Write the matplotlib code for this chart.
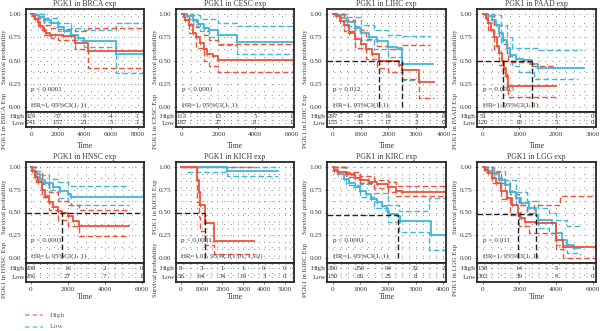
import matplotlib.pyplot as plt
from matplotlib.ticker import MultipleLocator

plt.rcParams['font.family'] = ['Liberation Serif', 'DejaVu Serif']

RED = '#EF5238'
CYAN = '#3DB8DC'
INK = '#3a3a3a'

# survival curves: (time, survival from that time on)
BRCA_HIGH = [(0, 1.0), (150, 0.98), (300, 0.95), (500, 0.91), (700, 0.87), (900, 0.83),
             (1100, 0.80), (1400, 0.78), (1800, 0.77), (2400, 0.76), (3300, 0.69), (4300, 0.60), (8400, 0.60)]
BRCA_HIGH_UP = [(0, 1.0), (500, 0.96), (1000, 0.88), (1500, 0.85), (2000, 0.84), (3300, 0.82), (4300, 0.85), (8400, 0.85)]
BRCA_HIGH_LO = [(0, 1.0), (500, 0.87), (1000, 0.77), (1500, 0.74), (2000, 0.72), (3300, 0.62), (4300, 0.42), (8400, 0.42)]
BRCA_LOW = [(0, 1.0), (300, 0.99), (600, 0.97), (1000, 0.94), (1500, 0.90), (2000, 0.86), (2500, 0.82),
            (3000, 0.78), (3500, 0.74), (4000, 0.71), (6400, 0.57), (8400, 0.57)]
BRCA_LOW_UP = [(0, 1.0), (1000, 0.96), (2000, 0.90), (3000, 0.85), (4000, 0.83), (6400, 0.90), (8400, 0.90)]
BRCA_LOW_LO = [(0, 1.0), (1000, 0.92), (2000, 0.82), (3000, 0.72), (4000, 0.65), (6400, 0.36), (8400, 0.36)]

CESC_HIGH = [(0, 1.0), (100, 0.97), (200, 0.94), (400, 0.88), (600, 0.80), (800, 0.75), (1000, 0.69),
             (1200, 0.62), (1400, 0.57), (1700, 0.55), (2000, 0.51), (6100, 0.51)]
CESC_HIGH_UP = [(0, 1.0), (400, 0.95), (800, 0.86), (1200, 0.77), (1500, 0.72), (2000, 0.68), (6100, 0.67)]
CESC_HIGH_LO = [(0, 1.0), (400, 0.80), (800, 0.64), (1200, 0.50), (1500, 0.44), (2000, 0.38), (6100, 0.38)]
CESC_LOW = [(0, 1.0), (300, 0.98), (600, 0.94), (900, 0.89), (1200, 0.85), (1500, 0.83), (2000, 0.77), (3000, 0.70), (6100, 0.70)]
CESC_LOW_UP = [(0, 1.0), (600, 0.99), (1000, 0.95), (2000, 0.90), (3000, 0.875), (6100, 0.875)]
CESC_LOW_LO = [(0, 1.0), (600, 0.89), (1000, 0.82), (1500, 0.75), (2000, 0.67), (3000, 0.57), (6100, 0.57)]

LIHC_HIGH = [(0, 1.0), (100, 0.98), (250, 0.93), (400, 0.88), (600, 0.80), (800, 0.73), (1000, 0.68), (1200, 0.62),
             (1400, 0.57), (1650, 0.50), (2000, 0.49), (2400, 0.45), (2500, 0.40), (3100, 0.27), (3650, 0.27)]
LIHC_HIGH_UP = [(0, 1.0), (400, 0.94), (800, 0.83), (1200, 0.73), (1600, 0.66), (2000, 0.62), (2500, 0.67), (3500, 0.67)]
LIHC_HIGH_LO = [(0, 1.0), (400, 0.82), (800, 0.64), (1200, 0.52), (1600, 0.42), (2000, 0.38), (2500, 0.30), (3100, 0.10), (3650, 0.10)]
LIHC_LOW = [(0, 1.0), (150, 0.99), (300, 0.96), (500, 0.92), (800, 0.85), (1000, 0.80), (1300, 0.75), (1600, 0.71),
            (2000, 0.65), (2300, 0.63), (2500, 0.46), (3600, 0.46)]
LIHC_LOW_UP = [(0, 1.0), (500, 0.97), (1000, 0.88), (1500, 0.83), (2000, 0.78), (2500, 0.76), (3500, 0.76)]
LIHC_LOW_LO = [(0, 1.0), (500, 0.87), (1000, 0.72), (1500, 0.62), (2000, 0.54), (2500, 0.29), (3000, 0.29)]

PAAD_HIGH = [(0, 1.0), (80, 0.96), (150, 0.90), (220, 0.83), (300, 0.75), (380, 0.66), (450, 0.58), (520, 0.50),
             (580, 0.42), (630, 0.33), (700, 0.22), (2000, 0.22)]
PAAD_HIGH_UP = [(0, 1.0), (150, 0.98), (300, 0.88), (450, 0.76), (550, 0.68), (650, 0.55), (700, 0.48), (1300, 0.44), (2000, 0.44)]
PAAD_HIGH_LO = [(0, 1.0), (150, 0.83), (300, 0.62), (450, 0.45), (550, 0.35), (650, 0.20), (700, 0.11), (2000, 0.11)]
PAAD_LOW = [(0, 1.0), (150, 0.98), (250, 0.94), (350, 0.88), (450, 0.80), (550, 0.72), (650, 0.63), (750, 0.56),
            (900, 0.52), (1100, 0.51), (1350, 0.46), (1500, 0.42), (2750, 0.42)]
PAAD_LOW_UP = [(0, 1.0), (300, 0.99), (500, 0.88), (650, 0.75), (800, 0.64), (1500, 0.61), (2700, 0.61)]
PAAD_LOW_LO = [(0, 1.0), (300, 0.88), (500, 0.70), (650, 0.55), (800, 0.44), (1000, 0.38), (1400, 0.30), (2600, 0.30)]

HNSC_HIGH = [(0, 1.0), (100, 0.96), (250, 0.89), (400, 0.83), (600, 0.75), (800, 0.68), (1000, 0.62), (1200, 0.56),
             (1500, 0.52), (1700, 0.50), (2000, 0.46), (2300, 0.41), (2600, 0.35), (5300, 0.35)]
HNSC_HIGH_UP = [(0, 1.0), (300, 0.93), (600, 0.84), (1000, 0.72), (1500, 0.63), (2000, 0.58), (2600, 0.53), (5300, 0.53)]
HNSC_HIGH_LO = [(0, 1.0), (300, 0.83), (600, 0.67), (1000, 0.53), (1500, 0.42), (2000, 0.35), (2600, 0.24), (5300, 0.24)]
HNSC_LOW = [(0, 1.0), (100, 0.97), (250, 0.92), (500, 0.86), (800, 0.82), (1200, 0.78), (1600, 0.74), (2000, 0.70),
            (2200, 0.67), (6100, 0.67)]
HNSC_LOW_UP = [(0, 1.0), (300, 0.96), (600, 0.91), (1000, 0.87), (1500, 0.83), (2000, 0.79), (5300, 0.79)]
HNSC_LOW_LO = [(0, 1.0), (300, 0.88), (600, 0.81), (1000, 0.75), (1500, 0.66), (2000, 0.60), (2200, 0.58), (5300, 0.58)]

KICH_HIGH = [(0, 1.0), (780, 0.86), (860, 0.72), (930, 0.58), (1150, 0.39), (1600, 0.19), (3500, 0.19)]
KICH_HIGH_UP = [(0, 1.0), (3500, 1.0)]
KICH_HIGH_LO = [(0, 1.0), (780, 0.62), (860, 0.45), (930, 0.30), (1150, 0.14), (1600, 0.04), (3500, 0.04)]
KICH_LOW = [(0, 1.0), (2200, 0.96), (4700, 0.96)]
KICH_LOW_UP = [(300, 1.0), (4700, 1.0)]
KICH_LOW_LO = [(300, 0.95), (2200, 0.90), (4700, 0.90)]

KIRC_HIGH = [(0, 1.0), (50, 0.97), (200, 0.95), (500, 0.92), (800, 0.88), (1000, 0.86), (1300, 0.83), (1600, 0.81),
             (2000, 0.78), (2300, 0.74), (2500, 0.73), (4150, 0.73)]
KIRC_HIGH_UP = [(0, 1.0), (500, 0.95), (1000, 0.90), (1500, 0.86), (2000, 0.83), (2300, 0.79), (4150, 0.79)]
KIRC_HIGH_LO = [(0, 1.0), (500, 0.89), (1000, 0.82), (1500, 0.77), (2000, 0.73), (2300, 0.68), (4150, 0.68)]
KIRC_LOW = [(0, 1.0), (50, 0.96), (200, 0.92), (400, 0.87), (600, 0.82), (800, 0.78), (1000, 0.74), (1200, 0.70),
            (1400, 0.65), (1600, 0.61), (1800, 0.57), (1950, 0.52), (2050, 0.48), (2350, 0.46), (2450, 0.41),
            (3550, 0.25), (4150, 0.25)]
KIRC_LOW_UP = [(0, 1.0), (500, 0.91), (1000, 0.81), (1500, 0.71), (2000, 0.58), (2400, 0.52), (3500, 0.66), (4100, 0.66)]
KIRC_LOW_LO = [(0, 1.0), (500, 0.80), (1000, 0.67), (1500, 0.55), (2000, 0.40), (2400, 0.29), (3500, 0.09), (4100, 0.09)]

LGG_HIGH = [(0, 1.0), (150, 0.97), (300, 0.93), (500, 0.88), (700, 0.82), (1000, 0.74), (1300, 0.66), (1600, 0.58),
            (1900, 0.50), (2100, 0.44), (2300, 0.40), (2900, 0.38), (4000, 0.20), (4400, 0.12), (6300, 0.12)]
LGG_HIGH_UP = [(0, 1.0), (500, 0.94), (1000, 0.82), (1500, 0.70), (2000, 0.58), (2400, 0.50), (2800, 0.58), (4200, 0.68), (6300, 0.68)]
LGG_HIGH_LO = [(0, 1.0), (500, 0.82), (1000, 0.65), (1500, 0.47), (2000, 0.35), (2500, 0.28), (4000, 0.10), (4400, 0.0), (6300, 0.0)]
LGG_LOW = [(0, 1.0), (150, 0.98), (300, 0.96), (600, 0.92), (900, 0.86), (1200, 0.80), (1500, 0.73), (1800, 0.66),
           (2100, 0.60), (2500, 0.55), (2900, 0.47), (3000, 0.42), (3800, 0.38), (4000, 0.28), (4300, 0.20),
           (4600, 0.14), (5000, 0.11), (5300, 0.11)]
LGG_LOW_UP = [(0, 1.0), (600, 0.96), (1200, 0.86), (1800, 0.73), (2400, 0.63), (3000, 0.55), (3600, 0.50), (4000, 0.42), (4600, 0.35), (5300, 0.35)]
LGG_LOW_LO = [(0, 1.0), (600, 0.88), (1200, 0.74), (1800, 0.58), (2400, 0.47), (3000, 0.33), (3600, 0.27), (4000, 0.14), (4600, 0.06), (5300, 0.03)]

# numbers at risk
BRCA_RISK = ([329, 57, 9, 4, 1], [741, 157, 21, 5, 1])
CESC_RISK = ([113, 13, 5, 1], [187, 27, 8, 1])
LIHC_RISK = ([297, 47, 16, 3, 0], [155, 53, 17, 3, 0])
PAAD_RISK = ([51, 4, 1, 0], [120, 18, 5, 0])
HNSC_RISK = ([208, 16, 2, 0], [266, 27, 7, 1])
KICH_RISK = ([8, 3, 1, 1, 0, 0], [56, 64, 34, 19, 3, 0])
KIRC_RISK = ([380, 256, 94, 32, 2], [150, 66, 25, 8, 1])
LGG_RISK = ([138, 14, 5, 1], [363, 39, 9, 0])

# median survival guides: (level, end of horizontal, vertical drops)
LIHC_MED = (0.5, 2500, [1650, 2500])
PAAD_MED = (0.5, 1340, [550, 1340])
HNSC_MED = (0.5, 6130, [1700])
KICH_MED = (0.5, 1150, [1150])
KIRC_MED = (0.47, 2350, [2350])
LGG_MED = (0.48, 2900, [1900, 2900])

panels = [
    dict(name='BRCA', high=(BRCA_HIGH, BRCA_HIGH_UP, BRCA_HIGH_LO), low=(BRCA_LOW, BRCA_LOW_UP, BRCA_LOW_LO),
         risk=BRCA_RISK, xlim=(-375, 8475), step=2000, p='p < 0.0001', hr='HR=1, 95%CI(1, 1)', med=None),
    dict(name='CESC', high=(CESC_HIGH, CESC_HIGH_UP, CESC_HIGH_LO), low=(CESC_LOW, CESC_LOW_UP, CESC_LOW_LO),
         risk=CESC_RISK, xlim=(-310, 6130), step=2000, p='p < 0.0001', hr='HR=1, 95%CI(1, 1)', med=None),
    dict(name='LIHC', high=(LIHC_HIGH, LIHC_HIGH_UP, LIHC_HIGH_LO), low=(LIHC_LOW, LIHC_LOW_UP, LIHC_LOW_LO),
         risk=LIHC_RISK, xlim=(-210, 4085), step=1000, p='p = 0.012', hr='HR=1, 95%CI(1, 1)', med=LIHC_MED),
    dict(name='PAAD', high=(PAAD_HIGH, PAAD_HIGH_UP, PAAD_HIGH_LO), low=(PAAD_LOW, PAAD_LOW_UP, PAAD_LOW_LO),
         risk=PAAD_RISK, xlim=(-155, 3090), step=1000, p='p = 0.0003', hr='HR=1, 95%CI(1, 1)', med=PAAD_MED),
    dict(name='HNSC', high=(HNSC_HIGH, HNSC_HIGH_UP, HNSC_HIGH_LO), low=(HNSC_LOW, HNSC_LOW_UP, HNSC_LOW_LO),
         risk=HNSC_RISK, xlim=(-250, 6130), step=2000, p='p < 0.0001', hr='HR=1, 95%CI(1, 1)', med=HNSC_MED),
    dict(name='KICH', high=(KICH_HIGH, KICH_HIGH_UP, KICH_HIGH_LO), low=(KICH_LOW, KICH_LOW_UP, KICH_LOW_LO),
         risk=KICH_RISK, xlim=(-240, 5450), step=1000, p='p < 0.0001', hr='HR=1.01, 95%CI(1.01, 1.02)', med=KICH_MED),
    dict(name='KIRC', high=(KIRC_HIGH, KIRC_HIGH_UP, KIRC_HIGH_LO), low=(KIRC_LOW, KIRC_LOW_UP, KIRC_LOW_LO),
         risk=KIRC_RISK, xlim=(-205, 4100), step=1000, p='p < 0.0001', hr='HR=1, 95%CI(1, 1)', med=KIRC_MED),
    dict(name='LGG', high=(LGG_HIGH, LGG_HIGH_UP, LGG_HIGH_LO), low=(LGG_LOW, LGG_LOW_UP, LGG_LOW_LO),
         risk=LGG_RISK, xlim=(-310, 6180), step=2000, p='p = 0.011', hr='HR=1, 95%CI(1, 1)', med=LGG_MED),
]

W, H = 600, 331
LEFTS = [26, 176, 327, 477]
RIGHTS = [144, 294, 446, 596]
ROWS = [dict(top=9, mid=112, bot=127, time=146, lab_a=57, lab_b=121),
        dict(top=162, mid=263, bot=282, time=297, lab_a=207, lab_b=270)]


def px_rect(l, t, r, b):
    return [l / W, 1 - b / H, (r - l) / W, (b - t) / H]


def dotted_grid(ax):
    ax.grid(True, which='both', color='#8a8a8a', linestyle=(0, (1, 6)), linewidth=0.7)
    ax.set_axisbelow(True)


def frame(ax):
    for s in ax.spines.values():
        s.set_linewidth(1.3)
        s.set_color('#262626')
    ax.tick_params(which='both', length=0, colors=INK, labelsize=5.2, pad=2)
    ax.tick_params(which='major', length=1.5, width=0.5)


def step(ax, pts, color, dashed=False, marks=False):
    t = [p[0] for p in pts]
    s = [p[1] for p in pts]
    if dashed:
        ax.step(t, s, where='post', color=color, lw=1.0, ls=(0, (4, 2)))
    else:
        ax.step(t, s, where='post', color=color, lw=1.3)
    if marks:
        ax.plot(t[1:-1], s[1:-1], '+', color=color, ms=3, mew=0.6)


fig = plt.figure(figsize=(6, 3.31), dpi=100)

for i, pn in enumerate(panels):
    row = ROWS[i // 4]
    l, r = LEFTS[i % 4], RIGHTS[i % 4]
    ax = fig.add_axes(px_rect(l, row['top'], r, row['mid']))
    tab = fig.add_axes(px_rect(l, row['mid'], r, row['bot']))

    # survival panel
    for curves, col in ((pn['low'], CYAN), (pn['high'], RED)):
        step(ax, curves[1], col, dashed=True)
        step(ax, curves[2], col, dashed=True)
    for curves, col in ((pn['low'], CYAN), (pn['high'], RED)):
        step(ax, curves[0], col, marks=True)
    if pn['med']:
        lvl, hend, drops = pn['med']
        ax.plot([pn['xlim'][0], hend], [lvl, lvl], color='#222222', lw=1.0, ls=(0, (4, 2)))
        for d in drops:
            ax.plot([d, d], [0, lvl], color='#222222', lw=1.0, ls=(0, (4, 2)))
    ax.text(0, 0.19, pn['p'], fontsize=5.2, color=INK, va='center', ha='left')
    ax.text(0, 0.02, pn['hr'], fontsize=5, color=INK, va='center', ha='left')

    ax.set_xlim(*pn['xlim'])
    ax.set_ylim(-0.055, 1.055)
    ax.xaxis.set_major_locator(MultipleLocator(pn['step']))
    ax.xaxis.set_minor_locator(MultipleLocator(pn['step'] / 4))
    ax.yaxis.set_major_locator(MultipleLocator(0.25))
    ax.yaxis.set_minor_locator(MultipleLocator(0.125))
    ax.yaxis.set_major_formatter(plt.FormatStrFormatter('%.2f'))
    ax.set_xticklabels([])
    dotted_grid(ax)
    frame(ax)
    ax.tick_params(axis='x', which='major', length=0)
    ax.set_title('PGK1 in %s exp' % pn['name'], fontsize=5.6, color=INK, pad=2.5)

    # numbers-at-risk table
    hi, lo = pn['risk']
    ticks = [k * pn['step'] for k in range(len(hi))]
    for x, a, b in zip(ticks, hi, lo):
        tab.text(x, 1, str(a), fontsize=5, color=INK, ha='center', va='center')
        tab.text(x, 0, str(b), fontsize=5, color=INK, ha='center', va='center')
    tab.set_xlim(*pn['xlim'])
    tab.set_ylim(-0.6, 1.6)
    tab.set_xticks(ticks)
    tab.set_xticklabels([str(t) for t in ticks])
    tab.xaxis.set_minor_locator(MultipleLocator(pn['step'] / 4))
    tab.set_yticks([1, 0])
    tab.set_yticklabels(['High', 'Low'])
    tab.yaxis.set_minor_locator(MultipleLocator(0.5))
    dotted_grid(tab)
    frame(tab)
    tab.tick_params(axis='y', which='major', length=0, pad=1)

    cx = (l + r) / 2
    fig.text(cx / W, 1 - row['time'] / H, 'Time', fontsize=5.6, color=INK, ha='center', va='center')

    # rotated labels on the left of each panel
    lab_a, lab_b = 'Survival probability', 'PGK1 in %s Exp' % pn['name']
    if pn['name'] == 'KICH':
        lab_a, lab_b = lab_b, lab_a
    xl = (l - 21) / W
    fig.text(xl, 1 - row['lab_a'] / H, lab_a, rotation=90, fontsize=4.9, color=INK, ha='center', va='center')
    fig.text(xl, 1 - row['lab_b'] / H, lab_b, rotation=90, fontsize=4.9, color=INK, ha='center', va='center')

# legend at the bottom left
lg = fig.add_axes([0, 0, 1, 1], facecolor='none')
lg.set_xlim(0, W)
lg.set_ylim(H, 0)
lg.axis('off')
lg.plot([25, 43], [315, 315], color='#F28470', lw=1.1, ls=(0, (3, 2)))
lg.plot([25, 43], [327, 327], color='#6CC7E2', lw=1.1, ls=(0, (3, 2)))
lg.text(50, 315, 'High', fontsize=5.4, color='#666666', va='center')
lg.text(50, 327, 'Low', fontsize=5.4, color='#666666', va='center')

fig.savefig('out.png', dpi=100)
